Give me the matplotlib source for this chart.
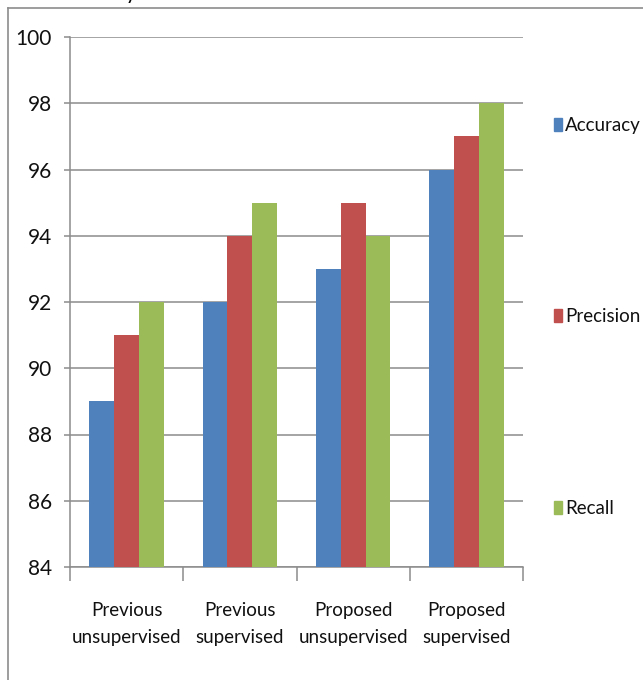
import matplotlib
matplotlib.use("Agg")
import matplotlib.pyplot as plt
import numpy as np
from matplotlib.lines import Line2D
from matplotlib.patches import Rectangle

plt.rcParams['font.family'] = ['Lato', 'DejaVu Sans']

categories = ["Previous\nunsupervised", "Previous\nsupervised",
              "Proposed\nunsupervised", "Proposed\nsupervised"]
series = ["Accuracy", "Precision", "Recall"]
accuracy = [89, 92, 93, 96]
precision = [91, 94, 95, 97]
recall = [92, 95, 94, 98]
colors = ["#4F81BD", "#C0504D", "#9BBB59"]

W, H = 643, 680
fig = plt.figure(figsize=(W / 100, H / 100), dpi=100)
ax = fig.add_axes([70 / W, 1 - 567 / H, 453 / W, 530 / H])

x = np.arange(len(categories))
bw = 0.22
for i, (vals, c) in enumerate(zip([accuracy, precision, recall], colors)):
    ax.bar(x + (i - 1) * bw, np.array(vals) - 84, bw, bottom=84, color=c,
           zorder=3, linewidth=0)

ax.set_xlim(-0.5, 3.5)
ax.set_ylim(84, 100)
ax.set_yticks(range(84, 101, 2))
ax.yaxis.grid(True, color="#8c8c8c", linewidth=1.1, zorder=0)
for s in ["top", "right"]:
    ax.spines[s].set_visible(False)
for s in ["left", "bottom"]:
    ax.spines[s].set_color("#8c8c8c")
    ax.spines[s].set_linewidth(1.1)

ax.tick_params(axis="y", length=4, width=1.1, color="#8c8c8c", pad=9,
               labelsize=15, labelcolor="#111111")
ax.set_xticks(x)
ax.set_xticklabels(categories, fontsize=13.5, linespacing=1.75,
                   color="#111111")
ax.tick_params(axis="x", which="major", length=0, pad=25)
ax.set_xticks(np.arange(-0.5, 4, 1), minor=True)
ax.tick_params(axis="x", which="minor", length=10, width=1.1,
               color="#8c8c8c")

# legend entries spread down the right side
for name, c, yp in zip(series, colors, [125, 316, 508]):
    fig.add_artist(Rectangle((554 / W, 1 - (yp + 6) / H), 8 / W, 13 / H,
                             transform=fig.transFigure, color=c))
    fig.text(565 / W, 1 - yp / H, name, fontsize=13.5, va="center",
             ha="left", color="#111111")

# outer frame
fig.add_artist(Line2D([8 / W, 8 / W], [0, 1 - 8 / H], color="#8c8c8c",
                      linewidth=1.2, transform=fig.transFigure))
fig.add_artist(Line2D([8 / W, 1], [1 - 8 / H, 1 - 8 / H], color="#8c8c8c",
                      linewidth=1.2, transform=fig.transFigure))
fig.text(137 / W, 1 + 1 / H, "Accuracy", fontsize=15, ha="right",
         va="baseline")

fig.savefig("out.png", dpi=100)
